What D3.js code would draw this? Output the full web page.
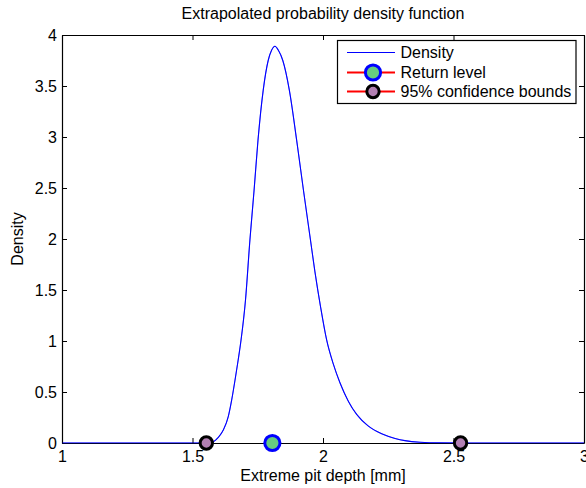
<!DOCTYPE html>
<html>
<head>
<meta charset="utf-8">
<script src="https://cdn.jsdelivr.net/npm/d3@7"></script>
<style>
  body { margin: 0; background: #fff; }
  text { font-family: "Liberation Sans", Arial, Helvetica, sans-serif; fill: #000; }
</style>
</head>
<body>
<svg id="chart" width="586" height="488"></svg>
<script>
// Extrapolated density of extreme pit depth
const depth = [1.00, 1.50, 1.56, 1.57, 1.580, 1.599, 1.618, 1.637, 1.650, 1.663, 1.675, 1.686, 1.703,
  1.720, 1.736, 1.751, 1.771, 1.790, 1.803, 1.816, 1.829, 1.846, 1.871, 1.899, 1.925, 1.952,
  1.969, 1.991, 2.014, 2.040, 2.065, 2.097, 2.129, 2.174, 2.225, 2.276, 2.314, 2.372, 2.448, 2.55, 3.00];
const density = [0, 0, 0, 0.003, 0.013, 0.056, 0.127, 0.258, 0.42, 0.618, 0.814, 1.01, 1.40,
  1.99, 2.48, 2.97, 3.46, 3.75, 3.85, 3.89, 3.85, 3.75, 3.46, 2.97, 2.48, 1.99,
  1.68, 1.33, 1.01, 0.77, 0.59, 0.41, 0.28, 0.165, 0.09, 0.045, 0.023, 0.007, 0.001, 0, 0];

const returnLevel = 1.806;
const confBounds = [1.553, 2.527];

const xTicks = [1, 1.5, 2, 2.5, 3];
const yTicks = [0, 0.5, 1, 1.5, 2, 2.5, 3, 3.5, 4];

const titleText = "Extrapolated probability density function";
const xLabel = "Extreme pit depth [mm]";
const yLabel = "Density";
const legendLabels = ["Density", "Return level", "95% confidence bounds"];

const svg = d3.select("#chart");
const margin = { left: 62, right: 2, top: 35, bottom: 45 };
const W = 586, H = 488;
const x = d3.scaleLinear().domain([1, 3]).range([margin.left, W - margin.right]);
const y = d3.scaleLinear().domain([0, 4]).range([H - margin.bottom, margin.top]);

const fs = 16;
const tick = 5;

const densityPath = d3.line().x((d, i) => x(depth[i])).y(d => y(d)).curve(d3.curveMonotoneX);

// density curve
svg.append("path").attr("d", densityPath(density))
  .attr("fill", "none").attr("stroke", "#0000ff").attr("stroke-width", 1.1);

// axes (ticks inside, MATLAB style box)
const fmt = d => String(d);
const gx = svg.append("g").attr("transform", `translate(0,${y(0)})`)
  .call(d3.axisBottom(x).tickValues(xTicks).tickFormat(fmt).tickSizeInner(-tick).tickSizeOuter(0).tickPadding(8));
const gy = svg.append("g").attr("transform", `translate(${x(1)},0)`)
  .call(d3.axisLeft(y).tickValues(yTicks).tickFormat(fmt).tickSizeInner(-tick).tickSizeOuter(0).tickPadding(5));
const gt = svg.append("g").attr("transform", `translate(0,${y(4)})`)
  .call(d3.axisTop(x).tickValues(xTicks).tickFormat("").tickSizeInner(-tick).tickSizeOuter(0));
const gr = svg.append("g").attr("transform", `translate(${x(3)},0)`)
  .call(d3.axisRight(y).tickValues(yTicks).tickFormat("").tickSizeInner(-tick).tickSizeOuter(0));
[gx, gy, gt, gr].forEach(g => {
  g.select(".domain").attr("stroke", "#000").attr("stroke-width", 1.2);
  g.selectAll(".tick line").attr("stroke", "#000").attr("stroke-width", 1);
  g.selectAll("text").attr("font-size", fs).attr("font-family", null).attr("fill", "#000");
});

// zero-level part of the curve drawn over the axis line
svg.append("path").attr("d", densityPath(density))
  .attr("fill", "none").attr("stroke", "#0000ff").attr("stroke-width", 0.8).attr("stroke-opacity", 0.6);

// confidence bound markers and return level marker
svg.selectAll("circle.bound").data(confBounds).join("circle")
  .attr("class", "bound").attr("cx", d => x(d)).attr("cy", y(0)).attr("r", 6.2)
  .attr("fill", "#b380b3").attr("stroke", "#000").attr("stroke-width", 3);
svg.append("circle").attr("cx", x(returnLevel)).attr("cy", y(0)).attr("r", 7.6)
  .attr("fill", "#66cc80").attr("stroke", "#0000ff").attr("stroke-width", 3);

// titles
svg.append("text").attr("x", (x(1) + x(3)) / 2).attr("y", 19).attr("text-anchor", "middle")
  .attr("font-size", fs).text(titleText);
svg.append("text").attr("x", (x(1) + x(3)) / 2).attr("y", 481).attr("text-anchor", "middle")
  .attr("font-size", fs).text(xLabel);
svg.append("text").attr("transform", `translate(23,${(y(0) + y(4)) / 2}) rotate(-90)`)
  .attr("text-anchor", "middle").attr("font-size", fs).text(yLabel);

// legend
const lg = svg.append("g");
lg.append("rect").attr("x", 337.5).attr("y", 40.5).attr("width", 238.5).attr("height", 63)
  .attr("fill", "#fff").attr("stroke", "#000").attr("stroke-width", 1.2);
const rowY = [52.5, 72.5, 91.5];
lg.append("line").attr("x1", 347).attr("x2", 395).attr("y1", rowY[0]).attr("y2", rowY[0])
  .attr("stroke", "#0000ff").attr("stroke-width", 1.1);
[1, 2].forEach(i => {
  lg.append("line").attr("x1", 347).attr("x2", 395).attr("y1", rowY[i]).attr("y2", rowY[i])
    .attr("stroke", "#ff0000").attr("stroke-width", 2.2);
});
lg.append("circle").attr("cx", 373).attr("cy", rowY[1]).attr("r", 7.6)
  .attr("fill", "#66cc80").attr("stroke", "#0000ff").attr("stroke-width", 3);
lg.append("circle").attr("cx", 373).attr("cy", rowY[2]).attr("r", 6.2)
  .attr("fill", "#b380b3").attr("stroke", "#000").attr("stroke-width", 3);
legendLabels.forEach((t, i) => {
  lg.append("text").attr("x", 400.5).attr("y", rowY[i]).attr("dy", "0.36em")
    .attr("font-size", fs).text(t);
});
</script>
</body>
</html>
